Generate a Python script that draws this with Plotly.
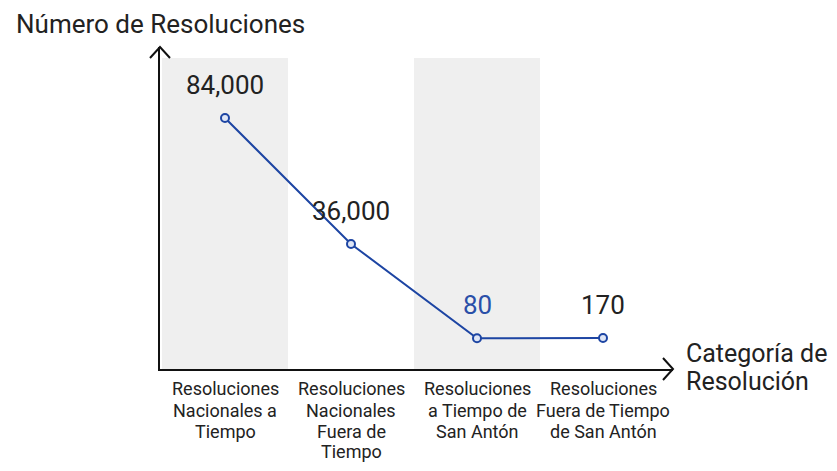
import plotly.graph_objects as go

categories = [
    "Resoluciones Nacionales a Tiempo",
    "Resoluciones Nacionales Fuera de Tiempo",
    "Resoluciones a Tiempo de San Antón",
    "Resoluciones Fuera de Tiempo de San Antón",
]
category_lines = [
    ["Resoluciones", "Nacionales a", "Tiempo"],
    ["Resoluciones", "Nacionales", "Fuera de", "Tiempo"],
    ["Resoluciones", "a Tiempo de", "San Antón"],
    ["Resoluciones", "Fuera de Tiempo", "de San Antón"],
]
values = [84000, 36000, 80, 170]
value_labels = ["84,000", "36,000", "80", "170"]
label_colors = ["#222222", "#222222", "#2a4fa8", "#222222"]
shaded = [0, 2]

OFF = 8  # page body margin
W, H = 837 - OFF, 471 - OFF
L, R, T, B = 160 - OFF, 673 - OFF, 47 - OFF, 369 - OFF  # plot area in pixels


def py(p):
    return (B - (p - OFF)) / (B - T)


def px(p):
    return ((p - OFF) - L) / (R - L)


FONT = "Roboto"
LINE = "#1d45a3"

fig = go.Figure()
fig.add_trace(go.Scatter(
    x=list(range(len(categories))), y=values, mode="lines+markers",
    line=dict(color=LINE, width=2),
    marker=dict(size=8, color="#dfe6f6", line=dict(color=LINE, width=2)),
    hoverinfo="skip", showlegend=False,
))

shapes = []
for i in shaded:
    shapes.append(dict(type="rect", xref="x", yref="paper", x0=i - 0.5, x1=i + 0.5,
                       y0=0, y1=py(58), fillcolor="#efefef", line=dict(width=0), layer="below"))
# arrow heads
shapes.append(dict(type="path", xref="paper", yref="paper", xsizemode="pixel", ysizemode="pixel",
                   xanchor=0, yanchor=1, path="M -10,-11 L 0,0 L 10,-11",
                   line=dict(color="#111111", width=2)))
shapes.append(dict(type="path", xref="paper", yref="paper", xsizemode="pixel", ysizemode="pixel",
                   xanchor=1, yanchor=0, path="M -10,11 L 0,0 L -10,-11",
                   line=dict(color="#111111", width=2)))

annotations = []
for i, (v, t, c) in enumerate(zip(values, value_labels, label_colors)):
    annotations.append(dict(x=i, y=v, xref="x", yref="y", text=t, showarrow=False,
                            yshift=33, yanchor="middle", xanchor="center",
                            font=dict(family=FONT, size=26, color=c)))
for i, lines in enumerate(category_lines):
    for j, line in enumerate(lines):
        annotations.append(dict(x=i, y=py(389 + 21 * j), xref="x", yref="paper", text=line,
                                showarrow=False, yanchor="middle", xanchor="center",
                                font=dict(family=FONT, size=18, color="#222222")))
annotations.append(dict(x=px(14), y=py(24), xref="paper", yref="paper", text="Número de Resoluciones",
                        showarrow=False, xanchor="left", yanchor="middle",
                        font=dict(family=FONT, size=26, color="#222222")))
for j, line in enumerate(["Categoría de", "Resolución"]):
    annotations.append(dict(x=px(684), y=py(353 + 28 * j), xref="paper", yref="paper", text=line,
                            showarrow=False, xanchor="left", yanchor="middle",
                            font=dict(family=FONT, size=25, color="#222222")))

y_per_px = (values[0] - values[1]) / (244 - 118)
y_zero_px = 244 - OFF + values[1] / y_per_px
fig.update_layout(
    width=W, height=H,
    margin=dict(l=L, r=W - R, t=T, b=H - B),
    paper_bgcolor="white", plot_bgcolor="white",
    xaxis=dict(range=[(L + OFF - 225) / 126, (R + OFF - 225) / 126], showgrid=False, zeroline=False,
               showticklabels=False, ticks="", showline=True, linecolor="#111111", linewidth=2),
    yaxis=dict(range=[-(B - y_zero_px) * y_per_px, (y_zero_px - T) * y_per_px], showgrid=False,
               zeroline=False, showticklabels=False, ticks="", showline=True,
               linecolor="#111111", linewidth=2),
    shapes=shapes, annotations=annotations,
)
fig.write_html("out.html")
